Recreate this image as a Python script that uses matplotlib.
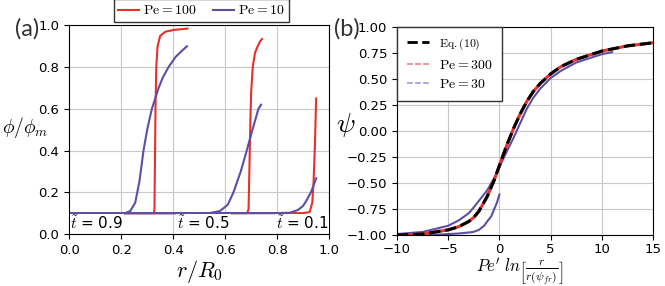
import numpy as np
import matplotlib.pyplot as plt
from matplotlib.lines import Line2D

plt.rcParams['mathtext.fontset'] = 'cm'

red = '#e8302a'
purple = '#5b4fa6'

# panel (a): phi/phi_m vs r/R0, three times, two Peclet numbers
times = ['0.9', '0.5', '0.1']
time_x = [0.005, 0.415, 0.795]

pe100_r = [
    [0.0, 0.1, 0.2, 0.3, 0.326, 0.328, 0.330, 0.332, 0.335, 0.34, 0.35, 0.37, 0.4, 0.43, 0.455],
    [0.0, 0.2, 0.4, 0.6, 0.685, 0.69, 0.693, 0.697, 0.70, 0.706, 0.715, 0.725, 0.735, 0.742],
    [0.0, 0.2, 0.4, 0.6, 0.8, 0.9, 0.925, 0.935, 0.94, 0.945, 0.95],
]
pe100_phi = [
    [0.1, 0.1, 0.1, 0.1, 0.1, 0.12, 0.35, 0.6, 0.8, 0.9, 0.95, 0.97, 0.978, 0.982, 0.985],
    [0.1, 0.1, 0.1, 0.1, 0.1, 0.12, 0.3, 0.55, 0.68, 0.8, 0.87, 0.9, 0.925, 0.935],
    [0.1, 0.1, 0.1, 0.1, 0.1, 0.1, 0.105, 0.15, 0.25, 0.42, 0.65],
]
pe10_r = [
    [0.0, 0.1, 0.2, 0.215, 0.235, 0.254, 0.27, 0.286, 0.30, 0.318, 0.344, 0.36, 0.382, 0.41, 0.435, 0.453],
    [0.0, 0.2, 0.4, 0.54, 0.58, 0.61, 0.632, 0.66, 0.683, 0.705, 0.728, 0.738],
    [0.0, 0.2, 0.4, 0.6, 0.8, 0.85, 0.88, 0.9, 0.914, 0.93, 0.95],
]
pe10_phi = [
    [0.1, 0.1, 0.1, 0.1, 0.11, 0.15, 0.25, 0.4, 0.5, 0.6, 0.7, 0.75, 0.8, 0.85, 0.88, 0.9],
    [0.1, 0.1, 0.1, 0.1, 0.11, 0.14, 0.2, 0.3, 0.4, 0.5, 0.6, 0.62],
    [0.1, 0.1, 0.1, 0.1, 0.1, 0.102, 0.115, 0.135, 0.163, 0.2, 0.267],
]

# panel (b): similarity profile
eq_x = [-10, -7.5, -5, -4, -3, -2.5, -2, -1.2, -0.5, 0, 0.7, 1.4, 2, 2.7, 3.3, 4, 5, 6, 7.5, 10, 12.5, 15]
eq_psi = [-1.0, -0.99, -0.95, -0.92, -0.87, -0.83, -0.77, -0.63, -0.47, -0.33, -0.14, 0.03, 0.16, 0.29, 0.38, 0.46, 0.55, 0.62, 0.69, 0.77, 0.82, 0.85]
pe300_x = eq_x
pe300_psi = eq_psi
pe30a_x = [-10, -7.5, -5, -4, -3, -2.56, -2, -1.2, -0.5, -0.2, 0.5, 1.4, 2, 2.7, 3.3, 4, 5, 6, 7.5, 10, 11]
pe30a_psi = [-0.99, -0.97, -0.91, -0.86, -0.79, -0.74, -0.67, -0.57, -0.45, -0.39, -0.24, -0.06, 0.07, 0.22, 0.32, 0.41, 0.51, 0.58, 0.66, 0.74, 0.76]
pe30b_x = [-10, -7, -5, -4, -3, -2.56, -2, -1.5, -1.2, -0.8, -0.55, -0.25, 0]
pe30b_psi = [-1.0, -1.0, -0.99, -0.985, -0.975, -0.97, -0.95, -0.91, -0.87, -0.82, -0.76, -0.69, -0.61]

fig = plt.figure(figsize=(6.65, 2.86), dpi=100)
ax1 = fig.add_axes([0.104, 0.182, 0.391, 0.729])
ax2 = fig.add_axes([0.597, 0.178, 0.385, 0.727])

for i in range(3):
    ax1.plot(pe100_r[i], pe100_phi[i], color=red, lw=1.5,
             label=r'$\mathrm{Pe}=100$' if i == 0 else None)
    ax1.plot(pe10_r[i], pe10_phi[i], color=purple, lw=1.5,
             label=r'$\mathrm{Pe}=10$' if i == 0 else None)
    ax1.text(time_x[i], 0.05, r'$\tilde{t}$ = ' + times[i], fontsize=11,
             va='center', ha='left', family='DejaVu Sans',
             bbox=dict(facecolor='white', edgecolor='none', pad=0.5))

ax1.set_xlim(0, 1)
ax1.set_ylim(0, 1)
ax1.set_xticks([0, 0.2, 0.4, 0.6, 0.8, 1.0])
ax1.grid(True, color='#c8c8c8', lw=0.8)
ax1.tick_params(labelsize=9.5)
ax1.set_xlabel(r'$r/R_0$', fontsize=16, labelpad=1)
ax1.set_ylabel(r'$\phi/\phi_m$', fontsize=14, rotation=0, ha='center', va='center')
ax1.yaxis.set_label_coords(-0.17, 0.51)
ax1.legend(loc='lower center', bbox_to_anchor=(0.508, 0.985), ncol=2, fontsize=10,
           fancybox=False, edgecolor='#333333', framealpha=1,
           borderpad=0.3, handlelength=1.5, handletextpad=0.3, columnspacing=1.2)
fig.text(0.022, 0.875, '(a)', fontsize=17, family='Lato', color='#333333')

ax2.plot(pe30a_x, pe30a_psi, color=purple, lw=1.5)
ax2.plot(pe30b_x, pe30b_psi, color=purple, lw=1.5)
ax2.plot(pe300_x, pe300_psi, color=red, lw=2.2)
ax2.plot(eq_x, eq_psi, color='black', ls='--', lw=2.2)

handles = [
    Line2D([], [], color='black', ls='--', lw=2),
    Line2D([], [], color='#f07070', ls='--', lw=1.1),
    Line2D([], [], color='#a08ad8', ls='--', lw=1.1),
]
labels = [r'$\mathrm{Eq.(10)}$', r'$\mathrm{Pe}=300$', r'$\mathrm{Pe}=30$']

ax2.set_xlim(-10, 15)
ax2.set_ylim(-1, 1)
ax2.set_xticks([-10, -5, 0, 5, 10, 15])
ax2.set_yticks(np.arange(-1, 1.01, 0.25))
ax2.grid(True, color='#c8c8c8', lw=0.8)
ax2.tick_params(labelsize=9.5)
ax2.tick_params(axis='x', pad=2)
ax2.set_xlabel(r"$Pe^{\prime}\ ln\left[\frac{r}{r(\psi_{fr})}\right]$", fontsize=12, labelpad=0)
ax2.xaxis.set_label_coords(0.48, -0.1)
ax2.xaxis.label.set_va('top')
ax2.set_ylabel(r'$\psi$', fontsize=20, rotation=0, ha='center', va='center')
ax2.yaxis.set_label_coords(-0.2, 0.53)
leg = ax2.legend(handles, labels, loc='upper left', fontsize=10, fancybox=False,
                 edgecolor='#333333', framealpha=1, handlelength=1.6,
                 borderpad=0.7, labelspacing=0.4, handletextpad=0.7, borderaxespad=0)
leg.get_texts()[0].set_fontsize(8.5)
fig.text(0.503, 0.875, '(b)', fontsize=17, family='Lato', color='#333333')

fig.savefig('out.png', dpi=100)
